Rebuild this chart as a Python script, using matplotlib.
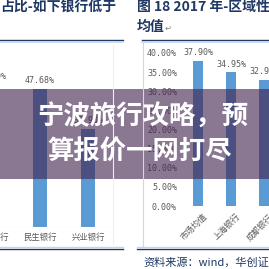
import numpy as np
import matplotlib
matplotlib.use('Agg')
import matplotlib.pyplot as plt
from matplotlib.patches import Rectangle
from matplotlib.lines import Line2D

plt.rcParams['font.family'] = ['Noto Sans CJK SC', 'DejaVu Sans']

# left panel (cut off on the left side)
left_banks = ['浦发银行', '民生银行', '兴业银行']
left_vals = [49.10, 47.68, 33.90]
left_text = ['49.10%', '47.68%', '33.90%']

# right panel (cut off on the right side)
right_banks = ['市场均值', '上海银行', '成都银行']
right_vals = [37.90, 34.95, 32.96]
right_ticks = [0, 5, 10, 15, 20, 25, 30, 35, 40]

blue = '#5b9bd5'
navy = '#1f3864'
grey = '#595959'

W = 269.0
def fx(px):
    return px / W
def fy(py):
    return 1 - py / W

fig = plt.figure(figsize=(2.69, 2.69), dpi=100)
fig.patch.set_facecolor('white')

def line(x0, x1, y0, y1, color, lw):
    fig.add_artist(Line2D([fx(x0), fx(x1)], [fy(y0), fy(y1)], color=color, lw=lw))

# --- left chart ---
ax1 = fig.add_axes([fx(0), fy(227), fx(113), fy(41) - fy(227)])
ax1.bar(range(len(left_vals)), left_vals, width=0.3, color=blue)
for i, (v, t) in enumerate(zip(left_vals, left_text)):
    ax1.text(i, v + 2.8, t, ha='center', va='center', fontsize=6, color=grey,
             family=['DejaVu Sans Mono'])
    ax1.text(i, -3.6, left_banks[i], ha='center', va='center', fontsize=6,
             color=grey, clip_on=False)
ax1.set_xlim(1 - 40 / 48, 1 + 73 / 48)
ax1.set_ylim(0, 186 / 2.894)
ax1.axhline(0, color='#d9d9d9', lw=0.8)
ax1.axis('off')

# --- right chart ---
sc = 3.825
ax2 = fig.add_axes([fx(180), fy(206), fx(269) - fx(180) + 0.02, fy(41) - fy(206)])
ax2.bar(range(len(right_vals)), right_vals, width=0.32, color=blue)
for i, v in enumerate(right_vals):
    ax2.text(i, v + 2.1, f'{v:.2f}%', ha='center', va='center', fontsize=6,
             color=grey, family=['DejaVu Sans Mono'])
    ax2.text(i + 0.15, -1.6, right_banks[i], rotation=45, ha='right', va='top',
             rotation_mode='anchor', fontsize=6, color=grey, clip_on=False)
ax2.set_xlim(-18 / 33, 71 / 33 + 0.02 * W / 33)
ax2.set_ylim(0, 165 / sc)
ax2.set_yticks(right_ticks)
ax2.set_yticklabels([f'{t:.2f}%' for t in right_ticks], fontsize=6, color=grey,
                    family=['DejaVu Sans Mono'])
ax2.tick_params(axis='y', length=0, pad=2.2)
ax2.set_xticks([])
for s in ax2.spines.values():
    s.set_visible(False)

# --- frame lines ---
line(0, 123, 40, 40, navy, 1.0)
line(0, 123, 42, 42, '#bdd7ee', 1.2)
line(142, 269, 40, 40, navy, 1.0)
line(142, 269, 42, 42, '#bdd7ee', 1.2)
line(0, 123, 249, 249, navy, 1.0)
line(0, 123, 247, 247, '#bdd7ee', 1.0)
line(137, 269, 249, 249, navy, 1.0)
line(137, 269, 247, 247, '#bdd7ee', 1.0)
line(143, 143, 43, 246, '#d6d6d6', 0.8)
line(113, 113, 45, 244, '#eeeeee', 0.8)

# --- titles ---
fig.text(fx(0), fy(7), '占比-如下银行低于', ha='left', va='center', fontsize=10,
         fontweight='bold', color=navy)
fig.text(fx(137), fy(7), '图 18 2017 年-区域性', ha='left', va='center', fontsize=10,
         fontweight='bold', color=navy)
fig.text(fx(137), fy(27), '均值', ha='left', va='center', fontsize=10,
         fontweight='bold', color=navy)
fig.text(fx(165), fy(28), '↵', ha='left', va='center', fontsize=6, color='#888888',
         family=['DejaVu Sans'])
fig.text(fx(143), fy(262), '资料来源：wind，华创证券', ha='left', va='center',
         fontsize=8, style='italic', color=navy)

# --- banner overlay ---
fig.add_artist(Rectangle((0, fy(179)), 1, fy(89) - fy(179), transform=fig.transFigure,
                         facecolor='#43234e', alpha=0.62, edgecolor='none'))
fig.text(fx(37), fy(117), '宁波旅行攻略，预', ha='left', va='center', fontsize=19,
         fontweight='bold', color='white')
fig.text(fx(47), fy(152), '算报价一网打尽', ha='left', va='center', fontsize=19,
         fontweight='bold', color='white')

fig.savefig('out.png', dpi=100, facecolor='white')
